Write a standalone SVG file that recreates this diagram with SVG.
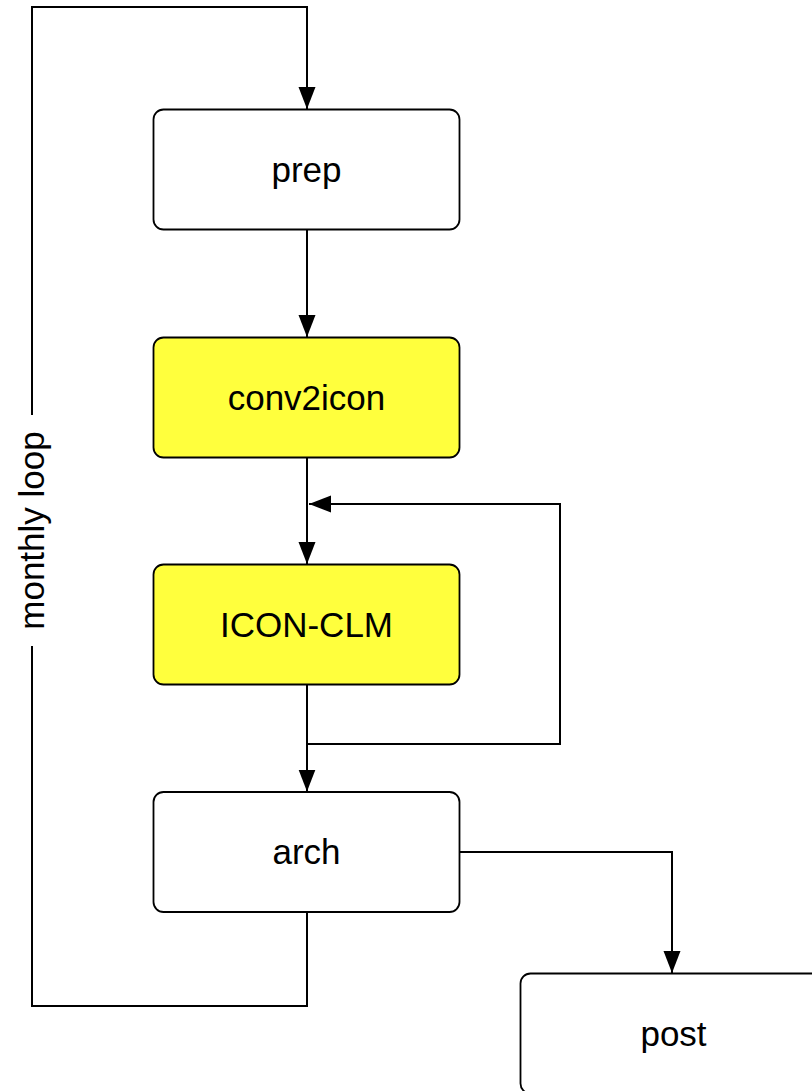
<svg xmlns="http://www.w3.org/2000/svg" width="812" height="1091" viewBox="0 0 812 1091">
<defs>
<style>
.box{fill:#ffffff;stroke:#000000;stroke-width:1.8}
.hl{fill:#ffff3d}
.lbl{font-family:"Liberation Sans",Arial,Helvetica,sans-serif;font-size:35px;fill:#000000;text-anchor:middle}
.edge{fill:none;stroke:#000000;stroke-width:2}
</style>
<marker id="arr" markerUnits="userSpaceOnUse" markerWidth="24" markerHeight="18" refX="22" refY="8.5" orient="auto">
<path d="M0,0 L22,8.5 L0,17 z" fill="#000000"/>
</marker>
</defs>
<rect width="812" height="1091" fill="#ffffff"/>
<g id="connectors">
<path class="edge" d="M32,415 V7 H307 V109" marker-end="url(#arr)"/>
<path class="edge" d="M307,229.5 V337" marker-end="url(#arr)"/>
<path class="edge" d="M307,457.5 V564" marker-end="url(#arr)"/>
<path class="edge" d="M307,684.5 V791.5" marker-end="url(#arr)"/>
<path class="edge" d="M307,744 H560 V504 H309" marker-end="url(#arr)"/>
<path class="edge" d="M460,852 H672 V973" marker-end="url(#arr)"/>
<path class="edge" d="M307,912 V1006 H32 V646"/>
<text class="lbl" transform="translate(44,530.5) rotate(-90)">monthly loop</text>
</g>
<g id="prep">
<rect class="box" x="153.5" y="109.5" width="306" height="120" rx="10"/>
<text class="lbl" x="306.5" y="181.5">prep</text>
</g>
<g id="conv2icon">
<rect class="box hl" x="153.5" y="337.5" width="306" height="120" rx="10"/>
<text class="lbl" x="306.5" y="409.5">conv2icon</text>
</g>
<g id="icon-clm">
<rect class="box hl" x="153.5" y="564.5" width="306" height="120" rx="10"/>
<text class="lbl" x="306.5" y="636.5">ICON-CLM</text>
</g>
<g id="arch">
<rect class="box" x="153.5" y="792" width="306" height="120" rx="10"/>
<text class="lbl" x="306.5" y="864">arch</text>
</g>
<g id="post">
<rect class="box" x="520.5" y="973.5" width="306" height="120" rx="10"/>
<text class="lbl" x="673.5" y="1045.5">post</text>
</g>
</svg>
